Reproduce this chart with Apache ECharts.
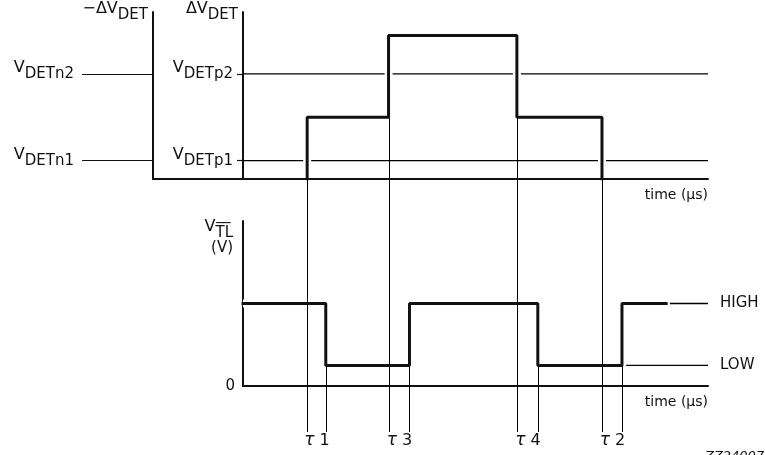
<!DOCTYPE html>
<html><head><meta charset="utf-8">
<script src="https://cdn.jsdelivr.net/npm/echarts@6/dist/echarts.min.js"></script>
<style>html,body{margin:0;padding:0;background:#fff}#c{width:765px;height:455px}</style>
</head><body><div id="c"></div>
<script>
// ---- data ----
const timeMax = 100;            // time axis span (μs, arbitrary units)
const detMax = 10;              // ΔV_DET axis span
const tlMax = 8;                // V_TL axis span
const detRefNamesN = ['DETn1', 'DETn2'];
const detRefNamesP = ['DETp1', 'DETp2'];
const detRefValues = [1.1, 6.3];
const detTimes = [13.8, 31.3, 58.9, 77.2];     // τ1, τ3, τ4, τ2 (ΔV_DET transitions)
const detLevels = [0, 3.7, 8.6, 3.7, 0];       // ΔV_DET level between transitions
const tlTimes = [17.8, 35.8, 63.4, 81.5];      // V_TL transitions
const tlLevels = [4, 1, 4, 1, 4];              // V_TL level between transitions
const tlStart = 0, tlEnd = 91.0;
const tlRefNames = ['HIGH', 'LOW'];
const tlRefValues = [4, 1];
const tlRefStarts = [91.8, 82.4];
const tauLabels = ['1', '3', '4', '2'];

// ---- build ----
const FF = 'DejaVu Sans';
const INK = '#111';
const detData = [];
detTimes.forEach((t, i) => { detData.push([t, detLevels[i]], [t, detLevels[i + 1]]); });
const tlData = [[tlStart, tlLevels[0]]];
tlTimes.forEach((t, i) => { tlData.push([t, tlLevels[i]], [t, tlLevels[i + 1]]); });
tlData.push([tlEnd, tlLevels[tlLevels.length - 1]]);

const subRich = {
  v: { fontSize: 16, lineHeight: 16, padding: [0, 0, 6, 0], fontFamily: FF, color: INK },
  s: { fontSize: 15, lineHeight: 16, padding: [6, 0, 0, 0], fontFamily: FF, color: INK }
};
function lab(main, sub) { return '{v|' + main + '}{s|' + sub + '}'; }

const chart = echarts.init(document.getElementById('c'), null, { renderer: 'canvas' });
const axisLine = { show: true, lineStyle: { color: INK, width: 2 } };
const timeName = {
  name: 'time (\u03bcs)', nameLocation: 'end', nameGap: 0,
  nameTextStyle: { align: 'right', verticalAlign: 'top', padding: [9, 0, 0, 0], fontSize: 14, fontFamily: FF, color: INK }
};
const option = {
  animation: false,
  backgroundColor: '#fff',
  title: { text: 'ZZ24007', left: 700, top: 445, textStyle: { fontSize: 13, fontStyle: 'italic', fontWeight: 'normal', fontFamily: FF, color: INK } },
  grid: [
    { left: 153, width: 90, top: 12, height: 167 },
    { left: 243, right: 57, top: 12, height: 167 },
    { left: 243, right: 57, top: 221, height: 165 }
  ],
  xAxis: [
    { gridIndex: 0, type: 'value', min: 0, max: 1, axisLine, axisTick: { show: false }, axisLabel: { show: false }, splitLine: { show: false } },
    Object.assign({ gridIndex: 1, type: 'value', min: 0, max: timeMax, z: 6, axisLine, axisTick: { show: false }, axisLabel: { show: false }, splitLine: { show: false } }, timeName),
    Object.assign({ gridIndex: 2, type: 'value', min: 0, max: timeMax, axisLine, axisTick: { show: false }, axisLabel: { show: false }, splitLine: { show: false } }, timeName)
  ],
  yAxis: [
    {
      gridIndex: 0, type: 'value', min: 0, max: detMax, axisLine, splitLine: { show: false },
      axisTick: { show: true, customValues: detRefValues, length: 71, lineStyle: { color: INK, width: 1.2 } },
      axisLabel: { show: true, customValues: detRefValues, margin: 79, padding: [0, 0, 6, 0], rich: subRich,
        formatter: v => lab('V', detRefNamesN[detRefValues.indexOf(v)]) },
      name: lab('\u2212\u0394V', 'DET'), nameLocation: 'end', nameGap: 0,
      nameTextStyle: { align: 'right', verticalAlign: 'middle', padding: [0, 5, 0, 0], rich: subRich }
    },
    {
      gridIndex: 1, type: 'value', min: 0, max: detMax, axisLine, splitLine: { show: false },
      axisTick: { show: true, customValues: detRefValues, length: 6, lineStyle: { color: INK, width: 1.2 } },
      axisLabel: { show: true, customValues: detRefValues, margin: 10, padding: [0, 0, 6, 0], rich: subRich,
        formatter: v => lab('V', detRefNamesP[detRefValues.indexOf(v)]) },
      name: lab('\u0394V', 'DET'), nameLocation: 'end', nameGap: 0,
      nameTextStyle: { align: 'right', verticalAlign: 'middle', padding: [0, 5, 0, 0], rich: subRich }
    },
    {
      gridIndex: 2, type: 'value', min: 0, max: tlMax, axisLine, splitLine: { show: false },
      axisTick: { show: false },
      axisLabel: { show: true, customValues: [0], margin: 8, fontSize: 15, fontFamily: FF, color: INK },
      name: lab('V', 'T\u0305L\u0305') + '\n{p|(V)}', nameLocation: 'end', nameGap: -19,
      nameTextStyle: { align: 'right', verticalAlign: 'middle', padding: [0, 10, 0, 0],
        rich: Object.assign({ p: { fontSize: 15, lineHeight: 20, fontFamily: FF, color: INK } }, subRich) }
    }
  ],
  series: []
};
detRefValues.forEach(v => option.series.push({
  type: 'line', xAxisIndex: 1, yAxisIndex: 1, data: [[0, v], [timeMax, v]], symbol: 'none', silent: true, z: 1,
  lineStyle: { color: '#000', width: 1.3 }
}));
option.series.push({ type: 'line', xAxisIndex: 1, yAxisIndex: 1, data: detData, symbol: 'none', silent: true, z: 2, lineStyle: { color: '#fff', width: 8, cap: 'butt' } });
option.series.push({ type: 'line', xAxisIndex: 1, yAxisIndex: 1, data: detData, symbol: 'none', silent: true, z: 4, lineStyle: { color: INK, width: 3, cap: 'square' } });
tlRefValues.forEach((v, i) => option.series.push({
  type: 'line', xAxisIndex: 2, yAxisIndex: 2, data: [[tlRefStarts[i], v], [timeMax, v]], symbol: 'none', silent: true, z: 1,
  lineStyle: { color: '#000', width: 1.3 },
  endLabel: { show: true, formatter: tlRefNames[i], distance: 12, fontSize: 15, fontFamily: FF, color: INK }
}));
option.series.push({ type: 'line', xAxisIndex: 2, yAxisIndex: 2, data: tlData, symbol: 'none', silent: true, z: 2, lineStyle: { color: '#fff', width: 8, cap: 'butt' } });
option.series.push({ type: 'line', xAxisIndex: 2, yAxisIndex: 2, data: tlData, symbol: 'none', silent: true, z: 4, lineStyle: { color: INK, width: 3, cap: 'square' } });
chart.setOption(option);

// τ marker lines, placed through the axes' own scales
const tauBottom = 432, tauTextY = 441;
const g = [];
const px = (axis, t) => Math.round(chart.convertToPixel({ xAxisIndex: axis }, t)) + 0.5;
detTimes.forEach((t, i) => {
  const x1 = px(1, t);
  const y1 = chart.convertToPixel({ yAxisIndex: 1 }, Math.min(detLevels[i], detLevels[i + 1]));
  const x2 = px(2, tlTimes[i]);
  const y2 = chart.convertToPixel({ yAxisIndex: 2 }, Math.min(tlLevels[i], tlLevels[i + 1]));
  g.push({ type: 'line', z: 3, silent: true, shape: { x1: x1, y1: y1, x2: x1, y2: tauBottom }, style: { stroke: '#000', lineWidth: 1 } });
  g.push({ type: 'line', z: 3, silent: true, shape: { x1: x2, y1: y2, x2: x2, y2: tauBottom }, style: { stroke: '#000', lineWidth: 1 } });
  g.push({ type: 'text', z: 3, silent: true, x: (x1 + x2) / 2, y: tauTextY,
    style: { text: '{t|\u03c4} ' + tauLabels[i], align: 'center', verticalAlign: 'middle', fontSize: 16, fontFamily: FF, fill: INK,
      rich: { t: { fontSize: 17, fontStyle: 'italic', fontFamily: FF, fill: INK, color: INK } } } });
});
chart.setOption({ graphic: g });
</script></body></html>
